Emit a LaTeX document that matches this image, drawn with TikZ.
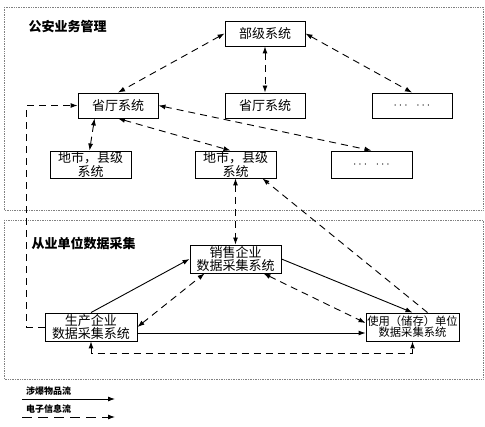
\documentclass[tikz,border=0pt]{standalone}
\usepackage{fontspec}
\setmainfont{Noto Sans CJK SC}
\usepackage{tikz}
\usepackage{color}
\usetikzlibrary{arrows.meta}

\begin{document}
\begin{tikzpicture}[%
      x=1pt, y=-1pt,
      >={Latex[length=7pt,width=5pt]},
      sys/.style={draw, line width=0.9pt, fill=white, inner sep=0pt,
        minimum width=80pt, minimum height=25pt, align=center,
        font=\fontsize{13}{11}\selectfont},
      region/.style={draw=gray, densely dotted, line width=0.7pt},
      goods/.style={line width=0.9pt},
      info/.style={line width=0.9pt, dash pattern=on 7pt off 5pt},
      legend/.style={font=\fontsize{9}{9}\selectfont\bfseries, inner sep=1pt},
      ]
      \useasboundingbox (0,0) rectangle (485,427);
      \draw [region] (4,7) rectangle (483,210);
      \draw [region] (4,220) rectangle (483,379);

      \node [anchor=west, font=\fontsize{13}{13}\selectfont\bfseries] (titleA) at (25,27) {公安业务管理};
      \node [anchor=west, font=\fontsize{13}{13}\selectfont\bfseries] (titleB) at (28,243) {从业单位数据采集};

      \node [sys] (ministry) at (265,33.5) {部级系统};
      \node [sys] (provA) at (118,105.5) {省厅系统};
      \node [sys] (provB) at (265,105.5) {省厅系统};
      \node [sys] (provC) at (412,105.5) {$\cdots\;\;\cdots$};

      \node [sys, minimum width=81pt, minimum height=27pt] (cityA) at (90.5,164.5) {地市，县级\\系统};
      \node [sys, minimum width=81pt, minimum height=27pt] (cityB) at (235.5,164.5) {地市，县级\\系统};
      \node [sys, minimum width=81pt, minimum height=27pt] (cityC) at (371.5,164.5) {$\cdots\;\;\cdots$};

      \node [sys, minimum width=91pt, minimum height=28pt] (sales) at (235.5,259) {销售企业\\数据采集系统};
      \node [sys, minimum width=92pt, minimum height=28pt] (prod) at (91,327) {生产企业\\数据采集系统};
      \node [sys, minimum width=93pt, minimum height=28pt, font=\fontsize{11.3}{11}\selectfont] (user) at (412.5,327) {使用（储存）单位\\数据采集系统};

      % electronic information
      \draw [info,<->] (ministry.west) -- (provA.north);
      \draw [info,<->] (ministry.south) -- (provB.north);
      \draw [info,<->] (ministry.east) -- (provC.north);
      \draw [info,<->] ([xshift=17pt]provA.south west) -- ([xshift=40pt]cityA.north west);
      \draw [info,<->] (provA.south) -- ([xshift=-5pt]cityB.north);
      \draw [info,<->] (provA.east) -- (cityC.north);
      \draw [info,<->] (cityB.south) -- (sales.north);
      \draw [info,->] ([xshift=15pt]user.north) -- ([xshift=-14pt]cityB.south east);
      \draw [info,->] (prod.west) -- ++(-18,0) |- (provA.west);
      \draw [info,<->] (prod.east) -- ([xshift=15pt]sales.south west);
      \draw [info,<->] ([xshift=-18pt]sales.south east) -- ([yshift=4pt]user.west);
      \draw [info,<->] (prod.south) -- ++(0,12) -| (user.south);

      % goods
      \draw [goods,->] (prod.north) -- (sales.west);
      \draw [goods,->] (sales.east) -- (user.north);
      \draw [goods,->] ([yshift=-6pt]prod.east) -- ([yshift=-6pt]user.west);

      % legend
      \coordinate (goodsA) at (22,399);
      \coordinate (goodsB) at (115,399);
      \coordinate (infoA) at (22,417);
      \coordinate (infoB) at (115,417);
      \node [legend, anchor=south west] (goodsText) at (25,397) {涉爆物品流};
      \node [legend, anchor=south west] (infoText) at (25,415) {电子信息流};
      \draw [goods,->] (goodsA) -- (goodsB);
      \draw [info,dash pattern=on 10pt off 6pt,->] (infoA) -- (infoB);
\end{tikzpicture}
\end{document}
